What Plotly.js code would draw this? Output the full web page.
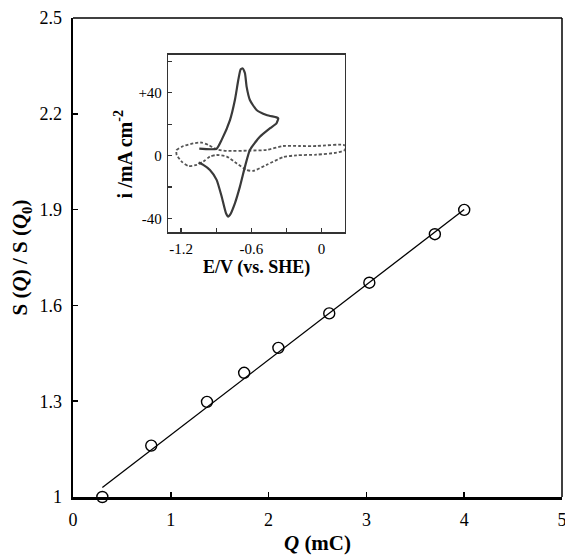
<!DOCTYPE html>
<html>
<head>
<meta charset="utf-8">
<script src="https://cdn.plot.ly/plotly-3.0.1.min.js"></script>
<style>html,body{margin:0;padding:0;background:#fff;}#chart{width:565px;height:556px;}</style>
</head>
<body>
<div id="chart"></div>
<script>
// Main data: charge Q (mC) vs normalized signal S(Q)/S(Q0)
const chargeQ = [0.30, 0.80, 1.37, 1.75, 2.10, 2.62, 3.03, 3.70, 4.00];
const signalRatio = [1.00, 1.161, 1.298, 1.389, 1.467, 1.575, 1.671, 1.823, 1.899];
// Linear fit line end points
const fitQ = [0.30, 4.00];
const fitS = [1.03, 1.90];
// Main axis ticks
const mainXTicks = [0, 1, 2, 3, 4, 5];
const mainYTicks = [1, 1.3, 1.6, 1.9, 2.2, 2.5];
const mainYTickText = ["1", "1.3", "1.6", "1.9", "2.2", "2.5"];

// Inset: cyclic voltammograms (E/V vs SHE, i / mA cm^-2)
const cvSolidE = [-1.044, -0.896, -0.853, -0.782, -0.740, -0.711, -0.691, -0.674, -0.654, -0.640, -0.612, -0.555, -0.470, -0.385, -0.370,
                  -0.385, -0.440, -0.527, -0.612, -0.654, -0.697, -0.740, -0.782, -0.796, -0.816, -0.853, -0.896, -0.953, -1.010, -1.050];
const cvSolidI = [4.4, 4.4, 10, 22.6, 35.3, 48, 54.8, 55.4, 52.3, 43.8, 35.3, 29, 25.8, 24.3, 23.7,
                  20.5, 17.4, 12, 3.6, -7, -19.7, -30.3, -37.7, -38.7, -36.6, -26, -15.4, -9.1, -5.9, -4.4];
const cvDashE = [-1.240, -1.237, -1.180, -1.095, -1.024, -0.967, -0.896, -0.810, -0.612, -0.470, -0.328, -0.186, -0.044, 0.198,
                 0.198, 0.127, -0.044, -0.214, -0.328, -0.470, -0.584, -0.640, -0.726, -0.810, -0.896, -0.953, -1.010, -1.067, -1.137, -1.194, -1.237, -1.240];
const cvDashI = [2.5, 3.6, 6.1, 7.8, 8.3, 6.8, 4.0, 3.0, 3.2, 3.6, 6.1, 6.1, 6.1, 6.6,
                 3.6, 1.9, 0.6, 0.2, -1.0, -5.9, -9.7, -9.1, -4.9, -0.6, 0.4, -0.6, -3.8, -5.9, -6.6, -3.8, 0.4, 2.5];
const insetXTicks = [-1.2, -0.6, 0];
const insetXTickText = ["-1.2", "-0.6", "0"];
const insetXMinor = [-0.9, -0.3];
const insetYTicks = [-40, 0, 40];
const insetYTickText = ["-40", "0", "+40"];
const insetYMinor = [-20, 20, 60];

const serif = "Liberation Serif, Times New Roman, serif";

const traces = [
  {x: fitQ, y: fitS, mode: "lines", line: {color: "#000", width: 1.3}, xaxis: "x", yaxis: "y", hoverinfo: "skip"},
  {x: chargeQ, y: signalRatio, mode: "markers", cliponaxis: false,
   marker: {symbol: "circle-open", size: 11, color: "#000", line: {width: 1.4, color: "#000"}},
   xaxis: "x", yaxis: "y"},
  {x: cvDashE, y: cvDashI, mode: "lines", line: {color: "#555", width: 1.8, dash: "3px,2px", shape: "spline", smoothing: 0.6},
   xaxis: "x2", yaxis: "y2"},
  {x: cvSolidE, y: cvSolidI, mode: "lines", line: {color: "#3a3a3a", width: 2.2, shape: "spline", smoothing: 0.5},
   xaxis: "x2", yaxis: "y2"}
];

const layout = {
  width: 565, height: 556,
  margin: {l: 73, r: 3, t: 18, b: 59},
  paper_bgcolor: "#fff", plot_bgcolor: "rgba(0,0,0,0)",
  showlegend: false,
  font: {family: serif, color: "#000"},
  xaxis: {
    range: [0, 5], tickvals: mainXTicks, ticks: "inside", ticklen: 5, tickwidth: 1.5, tickcolor: "#000",
    showline: true, linewidth: 2.5, linecolor: "#000", showgrid: false, zeroline: false,
    tickfont: {size: 18, family: serif}, ticklabelstandoff: 5, ticklabeloverflow: "allow",
    title: {text: "<b><i>Q</i> (mC)</b>", font: {size: 21, family: serif}, standoff: 6},
    fixedrange: true
  },
  yaxis: {
    range: [1, 2.5], tickvals: mainYTicks, ticktext: mainYTickText, ticks: "inside", ticklen: 5, tickwidth: 1.5, tickcolor: "#000",
    showline: true, linewidth: 2.5, linecolor: "#000", showgrid: false, zeroline: false,
    tickfont: {size: 18, family: serif}, ticklabelstandoff: 5, ticklabeloverflow: "allow",
    title: {text: "<b>S (<i>Q</i>) / S (<i>Q</i><sub>0</sub>)</b>", font: {size: 21, family: serif}, standoff: 6},
    fixedrange: true
  },
  xaxis2: {
    domain: [0.195, 0.556], anchor: "y2", range: [-1.308, 0.199],
    tickvals: insetXTicks, ticktext: insetXTickText, ticks: "inside", ticklen: 4, tickwidth: 1.2, tickcolor: "#333",
    minor: {tickvals: insetXMinor, ticks: "inside", ticklen: 4, tickwidth: 1.2, tickcolor: "#333", showgrid: false},
    showline: true, mirror: true, linewidth: 1.5, linecolor: "#333", showgrid: false, zeroline: false,
    tickfont: {size: 15, family: serif}, ticklabelstandoff: 2,
    title: {text: "<b>E/V (vs. SHE)</b>", font: {size: 18, family: serif}, standoff: 4},
    fixedrange: true
  },
  yaxis2: {
    domain: [0.553, 0.923], anchor: "x2", range: [-48.6, 64],
    tickvals: insetYTicks, ticktext: insetYTickText, ticks: "inside", ticklen: 4, tickwidth: 1.2, tickcolor: "#333",
    minor: {tickvals: insetYMinor, ticks: "inside", ticklen: 4, tickwidth: 1.2, tickcolor: "#333", showgrid: false},
    showline: true, mirror: true, linewidth: 1.5, linecolor: "#333", showgrid: false, zeroline: false,
    tickfont: {size: 15, family: serif}, ticklabelstandoff: 2,
    fixedrange: true
  },
  annotations: [
    {text: "<b>i /mA cm<sup>-2</sup></b>", xref: "paper", yref: "paper", x: 0.102, y: 0.715,
     xanchor: "center", yanchor: "middle", textangle: -90, showarrow: false,
     font: {size: 20, family: serif, color: "#000"}}
  ],
  shapes: [
    {type: "line", xref: "paper", yref: "paper", x0: 0, x1: 1, y0: 1, y1: 1, line: {color: "#000", width: 1.5}},
    {type: "line", xref: "paper", yref: "paper", x0: 1, x1: 1, y0: 0, y1: 1, line: {color: "#000", width: 1.5}}
  ]
};

Plotly.newPlot("chart", traces, layout, {displayModeBar: false, staticPlot: true});
</script>
</body>
</html>
